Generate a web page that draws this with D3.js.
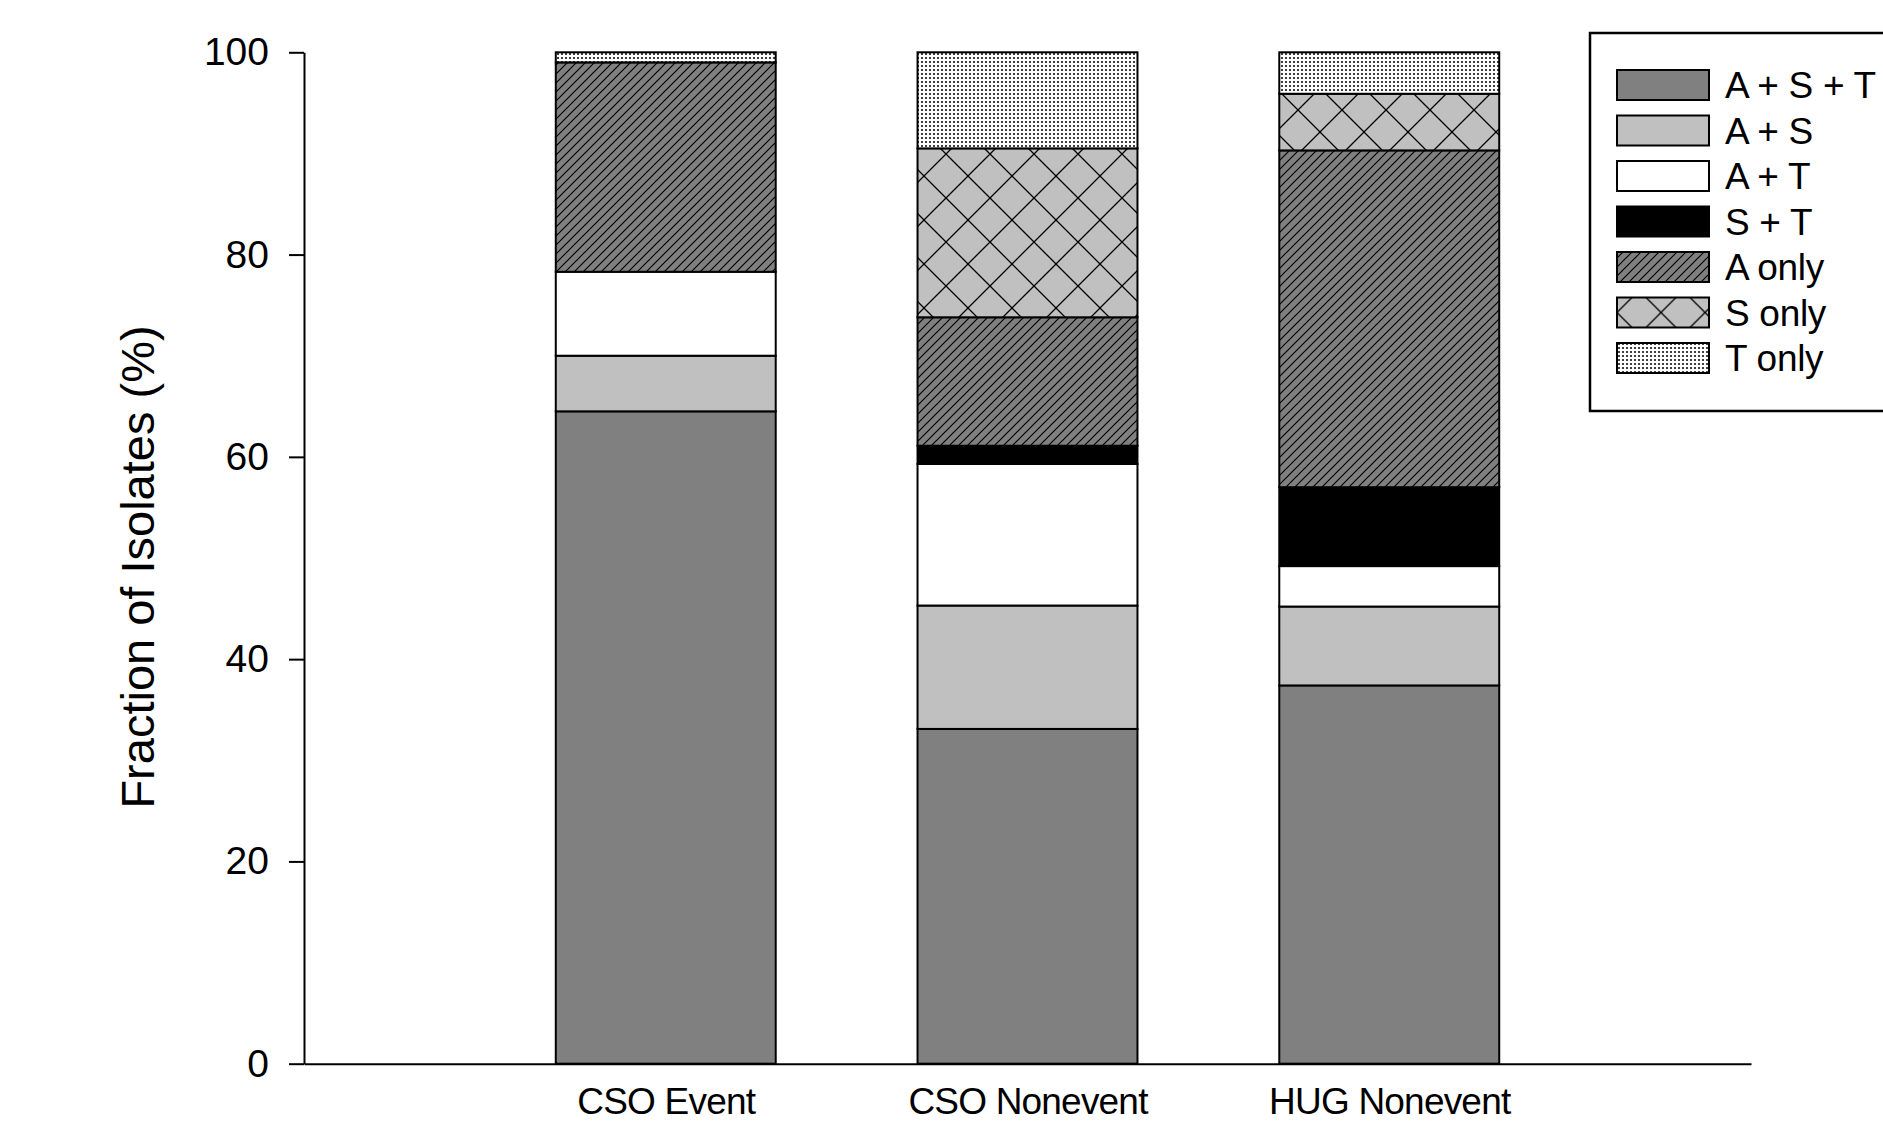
<!DOCTYPE html>
<html>
<head>
<meta charset="utf-8">
<script src="https://cdn.jsdelivr.net/npm/d3@7"></script>
<style>
body { margin: 0; background: #fff; }
svg { display: block; font-family: "Liberation Sans", Arial, sans-serif; }
</style>
</head>
<body>
<div id="root"></div>
<script>
// categories and series (percent of isolates)
var categories = ["CSO Event", "CSO Nonevent", "HUG Nonevent"];
var groups = ["A + S + T", "A + S", "A + T", "S + T", "A only", "S only", "T only"];
var astVals   = [64.5, 33.1, 37.4];
var asVals    = [5.5, 12.2, 7.8];
var atVals    = [8.3, 14.0, 4.0];
var stVals    = [0, 1.8, 7.8];
var aOnly     = [20.7, 12.7, 33.3];
var sOnly     = [0, 16.7, 5.6];
var tOnly     = [1.0, 9.5, 4.1];
var yTicks = [0, 20, 40, 60, 80, 100];

var series = [astVals, asVals, atVals, stVals, aOnly, sOnly, tOnly];
var table = categories.map(function (c, i) {
    var row = { cat: c, idx: i + 1 };
    groups.forEach(function (g, j) { row[g] = series[j][i]; });
    return row;
});

var W = 1883, H = 1125;
var plotLeft = 304, plotRight = 1751, plotTop = 52.3, plotBottom = 1063.7;

var svg = d3.select("#root").append("svg")
    .attr("width", W)
    .attr("height", H);

// fill patterns
var defs = svg.append("defs");
var pA = defs.append("pattern").attr("id", "pA")
    .attr("patternUnits", "userSpaceOnUse").attr("width", 9).attr("height", 9);
pA.append("rect").attr("width", 9).attr("height", 9).attr("fill", "#808080");
pA.append("path").attr("d", "M-1,1 L1,-1 M0,9 L9,0 M8,10 L10,8")
    .attr("stroke", "#000").attr("stroke-width", 1.2);

var pS = defs.append("pattern").attr("id", "pS")
    .attr("patternUnits", "userSpaceOnUse").attr("width", 44).attr("height", 44);
pS.append("rect").attr("width", 44).attr("height", 44).attr("fill", "#c0c0c0");
pS.append("path").attr("d", "M0,0 L44,44 M44,0 L0,44")
    .attr("stroke", "#000").attr("stroke-width", 1.3);

var pT = defs.append("pattern").attr("id", "pT")
    .attr("patternUnits", "userSpaceOnUse").attr("width", 4).attr("height", 4);
pT.append("rect").attr("width", 4).attr("height", 4).attr("fill", "#fff");
pT.append("circle").attr("cx", 2).attr("cy", 2).attr("r", 1.1).attr("fill", "#111");

var fills = {
    "A + S + T": "#808080",
    "A + S": "#c0c0c0",
    "A + T": "#ffffff",
    "S + T": "#000000",
    "A only": "url(#pA)",
    "S only": "url(#pS)",
    "T only": "url(#pT)"
};

var x = d3.scaleLinear().domain([0, 4]).range([plotLeft, plotRight]);
var y = d3.scaleLinear().domain([0, 100]).range([plotBottom, plotTop]);
var barW = x(0.608) - x(0);

var stacked = d3.stack().keys(groups)(table);

svg.selectAll(".layer")
    .data(stacked)
    .enter()
    .append("g")
    .attr("class", "layer")
    .attr("fill", function (d) { return fills[d.key]; })
    .selectAll("rect")
    .data(function (d) { return d.filter(function (p) { return p[1] - p[0] > 0; }); })
    .enter()
    .append("rect")
    .attr("x", function (d) { return x(d.data.idx) - barW / 2; })
    .attr("y", function (d) { return y(d[1]); })
    .attr("width", barW)
    .attr("height", function (d) { return y(d[0]) - y(d[1]); })
    .attr("stroke", "#000")
    .attr("stroke-width", 2);

// axes
var yAxis = d3.axisLeft(y).tickValues(yTicks).tickSize(15).tickSizeOuter(0).tickPadding(20);
var gy = svg.append("g")
    .attr("transform", "translate(" + plotLeft + ",0)")
    .call(yAxis);
gy.selectAll("text").style("font-size", "39px").attr("fill", "#000");

var xAxis = d3.axisBottom(x).tickValues([1, 2, 3])
    .tickFormat(function (i) { return categories[i - 1]; })
    .tickSize(0).tickSizeOuter(0).tickPadding(24);
var gx = svg.append("g")
    .attr("transform", "translate(0," + plotBottom + ")")
    .call(xAxis);
gx.selectAll("text").style("font-size", "37px").style("letter-spacing", "-0.8px").attr("fill", "#000");

svg.selectAll(".domain, .tick line").attr("stroke", "#000").attr("stroke-width", 2);

svg.append("text")
    .attr("transform", "translate(154,567) rotate(-90)")
    .attr("text-anchor", "middle")
    .style("font-size", "47px")
    .text("Fraction of Isolates (%)");

// legend
var legend = svg.append("g").attr("transform", "translate(1590,33)");
legend.append("rect")
    .attr("width", 340).attr("height", 378)
    .attr("fill", "#fff").attr("stroke", "#000").attr("stroke-width", 2.5);
var rows = legend.selectAll(".row")
    .data(groups)
    .enter()
    .append("g")
    .attr("class", "row")
    .attr("transform", function (d, i) { return "translate(27," + (52 + i * 45.5) + ")"; });
rows.append("rect")
    .attr("y", -15).attr("width", 92).attr("height", 30)
    .attr("fill", function (d) { return fills[d]; })
    .attr("stroke", "#000").attr("stroke-width", 2);
rows.append("text")
    .attr("x", 108).attr("dy", "0.36em")
    .style("font-size", "37px")
    .style("letter-spacing", "-0.3px")
    .text(function (d) { return d; });
</script>
</body>
</html>
